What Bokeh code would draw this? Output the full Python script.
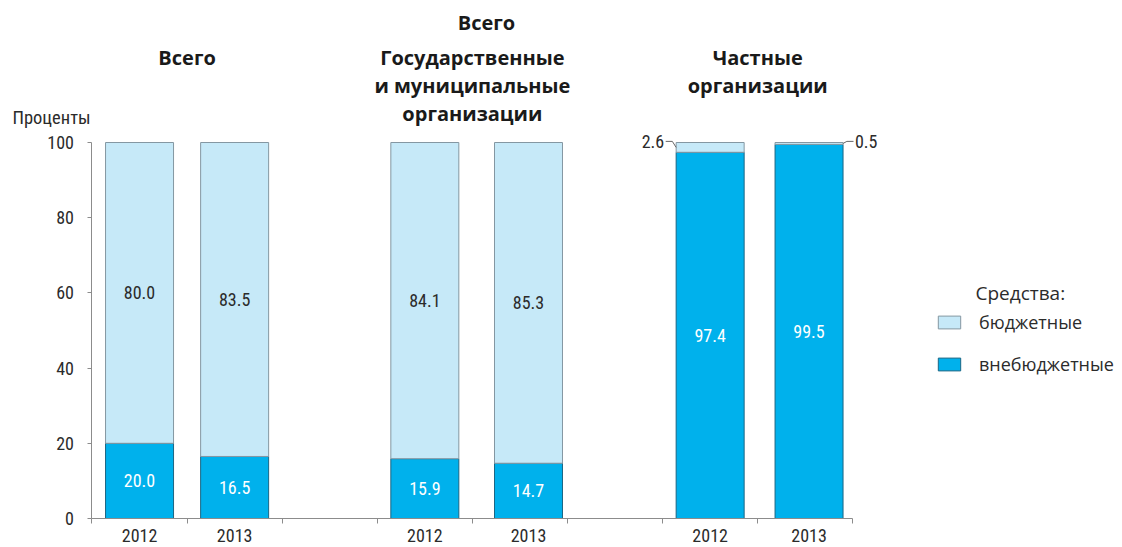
from bokeh.plotting import figure
from bokeh.models import ColumnDataSource, Range1d, FixedTicker, Legend, LegendItem
from bokeh.core.properties import value
from bokeh.embed import file_html
from bokeh.resources import INLINE

# ---------------- data ----------------
years = ["2012", "2013", "2012", "2013", "2012", "2013"]
group_titles = ["Всего", "Государственные\nи муниципальные\nорганизации", "Частные\nорганизации"]
bar_group = [0, 0, 1, 1, 2, 2]
budget = [80.0, 83.5, 84.1, 85.3, 2.6, 0.5]      # бюджетные
extra = [20.0, 16.5, 15.9, 14.7, 97.4, 99.5]     # внебюджетные
chart_title = "Всего"
y_label = "Проценты"
legend_title = "Средства:"
series_names = ["бюджетные", "внебюджетные"]
y_ticks = [0, 20, 40, 60, 80, 100]

# ---------------- layout / style ----------------
slot = [0, 1, 3, 4, 6, 7]             # category slots (empty slots between groups)
nudge = [0, 0, 0, 0.09, 0, 0.04]      # small placement offsets of the bars in their slots
n_slots = 8
bar_w = 0.715
LIGHT = "#c6e9f8"
DARK = "#00b1ec"
LIGHT_LINE = "#8497a2"
DARK_LINE = "#1b6684"
AXIS = "#8c8c8c"
TXT = "#2b2b2b"
NARROW = "'Roboto Condensed', 'DejaVu Sans Condensed', 'Liberation Sans Narrow', Roboto, sans-serif"
HEAD = "Open Sans"
FS = "18px"

x0 = -0.5                      # start of category axis
p = figure(width=1122, height=547,
           x_range=Range1d(-1.462, 10.336), y_range=Range1d(-7.713, 137.77),
           output_backend="svg", toolbar_location=None,
           min_border_left=0, min_border_right=0, min_border_top=0, min_border_bottom=0)
p.outline_line_color = None
p.grid.visible = False
p.background_fill_color = "white"

bx = [s + n for s, n in zip(slot, nudge)]
total = [e + b for e, b in zip(extra, budget)]
src = ColumnDataSource(dict(x=bx, extra=extra, total=total))

r_dark = p.vbar(x="x", width=bar_w, bottom=0, top="extra", source=src,
                fill_color=DARK, line_color=DARK_LINE, line_width=1)
r_light = p.vbar(x="x", width=bar_w, bottom="extra", top="total", source=src,
                 fill_color=LIGHT, line_color=LIGHT_LINE, line_width=1)

# value labels inside dark segments
p.text(x=bx, y=[e / 2 for e in extra], text=[f"{e:.1f}" for e in extra],
       text_color="white", text_font=value(NARROW), text_font_size=FS,
       text_align="center", text_baseline="middle")

# value labels inside light segments (big enough)
inside = [i for i, b in enumerate(budget) if b >= 10]
p.text(x=[bx[i] for i in inside], y=[extra[i] + budget[i] / 2 for i in inside],
       text=[f"{budget[i]:.1f}" for i in inside],
       text_color=TXT, text_font=value(NARROW), text_font_size=FS,
       text_align="center", text_baseline="middle")

# small light segments: labels outside with leader lines
small = [i for i, b in enumerate(budget) if b < 10]
for k, i in enumerate(small):
    side = -1 if k == 0 else 1
    edge = bx[i] + side * bar_w / 2
    mid = extra[i] + budget[i] / 2
    tip = edge + side * 0.11
    p.line(x=[edge, edge + side * 0.04, tip], y=[mid, total[i] + 0.3, total[i] + 0.3],
           line_color="#666666", line_width=1)
    p.text(x=[tip + side * 0.015], y=[total[i] + 0.3], text=[f"{budget[i]:.1f}"],
           text_color=TXT, text_font=value(NARROW), text_font_size=FS,
           text_align="right" if side < 0 else "left", text_baseline="middle")

# group titles
gx = []
for g in range(len(group_titles)):
    xs = [slot[i] for i in range(len(slot)) if bar_group[i] == g]
    gx.append(sum(xs) / len(xs))
p.text(x=gx, y=[126.3] * len(gx), text=group_titles, text_color="#1a1a1a",
       text_font=value(HEAD), text_font_style="bold", text_font_size="20px",
       text_align="center", text_baseline="top", text_line_height=1.05)
p.text(x=[3.648], y=[131.9], text=[chart_title], text_color="#1a1a1a",
       text_font=value(HEAD), text_font_style="bold", text_font_size="20px",
       text_align="center", text_baseline="middle")

# y unit label
p.text(x=[-1.336], y=[106.6], text=[y_label], text_color=TXT,
       text_font=value(NARROW), text_font_size="18.5px", text_baseline="middle")

# axes
xa = p.xaxis[0]
xa.fixed_location = 0
xa.ticker = FixedTicker(ticks=bx, minor_ticks=[x0 + k for k in range(n_slots + 1)])
xa.major_label_overrides = {x: y for x, y in zip(bx, years)}
xa.bounds = (x0, x0 + n_slots)
xa.major_tick_out = 0
xa.major_tick_in = 0
xa.minor_tick_out = 5
xa.minor_tick_in = 0
xa.axis_line_color = AXIS
xa.minor_tick_line_color = AXIS
xa.major_label_standoff = 5
xa.major_label_text_font = NARROW
xa.major_label_text_font_size = FS
xa.major_label_text_color = TXT

ya = p.yaxis[0]
ya.fixed_location = x0
ya.ticker = FixedTicker(ticks=y_ticks)
ya.bounds = (0, 100)
ya.major_tick_out = 4
ya.major_tick_in = 0
ya.minor_tick_line_color = None
ya.axis_line_color = AXIS
ya.major_tick_line_color = AXIS
ya.major_label_standoff = 14
ya.major_label_text_font = NARROW
ya.major_label_text_font_size = FS
ya.major_label_text_color = TXT

# legend
p.text(x=[8.79], y=[60.1], text=[legend_title], text_color=TXT,
       text_font=value(HEAD), text_font_size="19px", text_baseline="middle")
legend = Legend(items=[LegendItem(label=series_names[0], renderers=[r_light]),
                       LegendItem(label=series_names[1], renderers=[r_dark])],
                location=(935, 142 + 29), orientation="vertical",
                glyph_width=28, glyph_height=16, label_height=20, spacing=18,
                label_standoff=16, padding=0, margin=0,
                label_text_font=HEAD, label_text_font_size="18px", label_text_color=TXT,
                border_line_color=None, background_fill_alpha=0)
p.add_layout(legend)

open("out.html", "w").write(file_html(p, INLINE))
